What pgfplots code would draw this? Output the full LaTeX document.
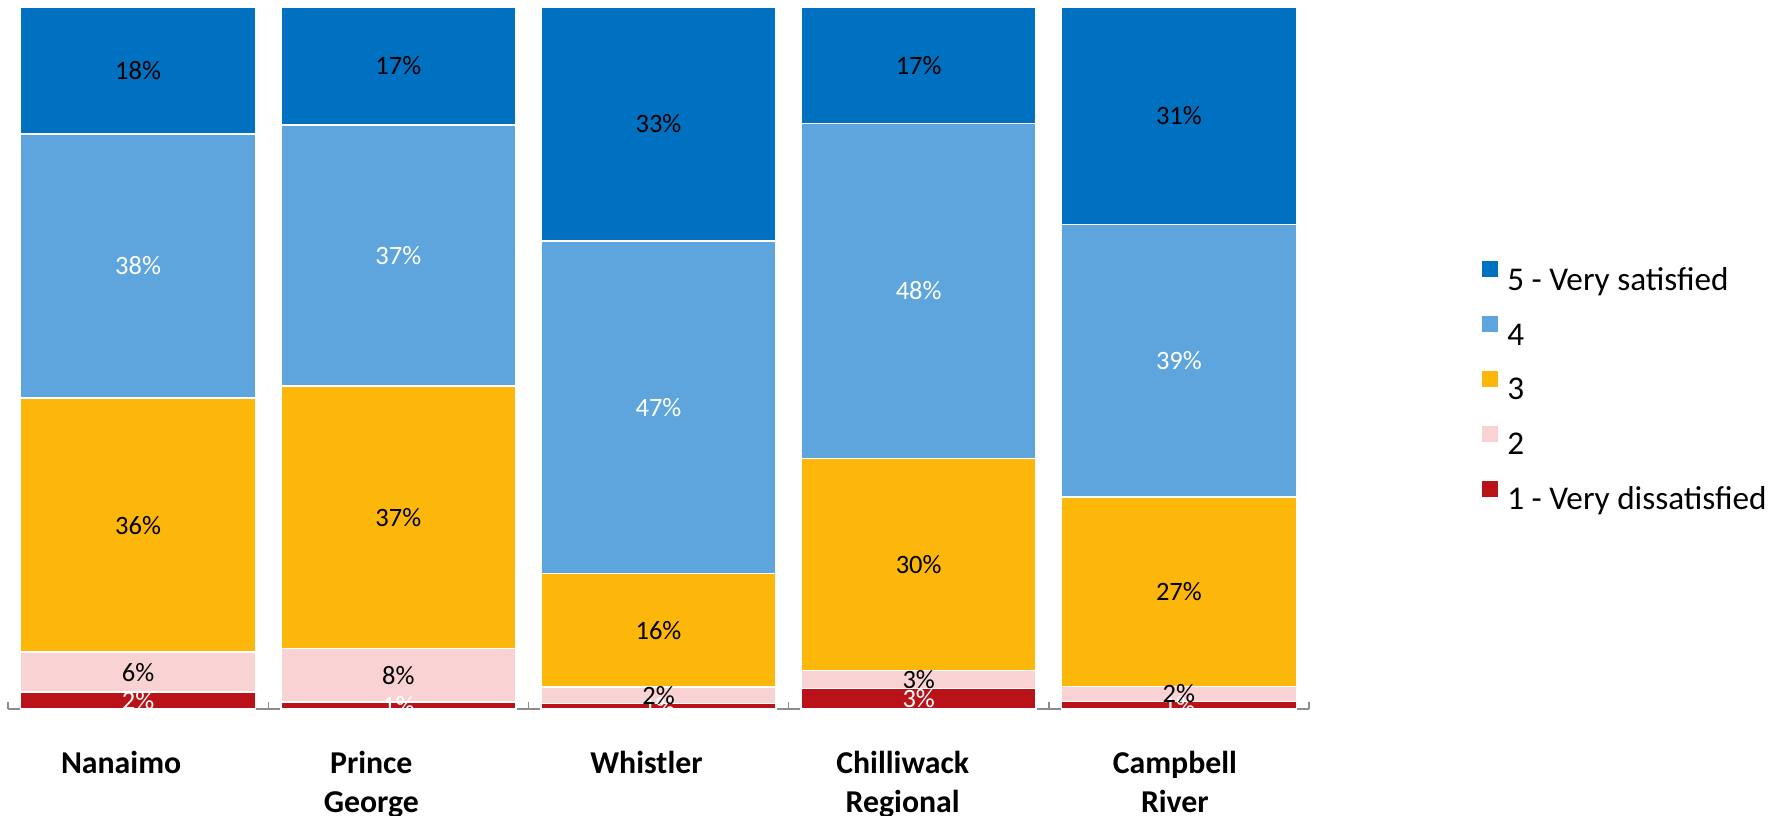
\documentclass[border=0pt]{standalone}
\usepackage{pgfplots}
\pgfplotsset{compat=1.18}
\usepackage{pgfplotstable}
\usepackage{fontspec}
\setmainfont{Carlito}

\definecolor{cfive}{HTML}{0070C0}
\definecolor{cfour}{HTML}{5DA5DC}
\definecolor{cthree}{HTML}{FDB70B}
\definecolor{ctwo}{HTML}{F9D2D3}
\definecolor{cone}{HTML}{B91319}
\definecolor{axisgray}{HTML}{8C8C8C}

\pgfplotstableread{
x n1 n2 n3 n4 n5
0 2.4 5.7 36.2 37.6 18.1
1 1.0 7.6 37.4 37.2 16.8
2 0.8 2.3 16.2 47.4 33.3
3 2.9 2.6 30.2 47.7 16.6
4 1.1 2.1 27.0 38.8 31.0
}\data

\newcommand\lab[2]{\hspace*{#1}\begin{tabular}{@{}c@{}}#2\end{tabular}}

\pgfplotsset{
  seg/.style={fill=#1, draw=white, line width=0.75pt},
  lbl/.style={draw=none, mark=none, every node near coord/.append style={text=#1}},
}

\begin{document}
\begin{tikzpicture}
\begin{axis}[
  at={(0,0)}, anchor=south west,
  scale only axis, width=650.5pt, height=351pt,
  ybar stacked, bar width=117.5pt,
  xmin=-0.5, xmax=4.5, ymin=0, ymax=100,
  enlarge x limits=false, enlarge y limits=false,
  axis x line*=bottom, axis y line=none,
  axis line style={draw=axisgray, line width=0.7pt},
  xtick={-0.5,0.5,1.5,2.5,3.5,4.5},
  x tick label as interval,
  xticklabels={{\lab{-17pt}{Nanaimo}},{\lab{-27pt}{Prince\\George}},{\lab{-12pt}{Whistler}},{\lab{-16pt}{Chilliwack\\Regional}},{\lab{-4pt}{Campbell\\River}}},
  xtick align=inside, major tick length=3.5pt,
  xtick style={draw=axisgray, line width=0.7pt},
  xticklabel style={font=\fontsize{15.9}{19.3}\bfseries\selectfont, inner sep=0pt, anchor=north, yshift=-18.5pt},
  reverse legend,
  legend cell align=left,
  legend style={draw=none, fill=none, inner sep=0pt, outer sep=0pt,
    at={(1.13297,0.6377)}, anchor=north west,
    font=\fontsize{16.6}{19}\selectfont,
    row sep=11.55pt,
    nodes={inner sep=0pt},
    /tikz/every odd column/.append style={column sep=4.8pt},
    /tikz/every even column/.append style={text height=12pt, text depth=4pt}},
  legend image code/.code={\fill[#1,draw=none] (0pt,1.3pt) rectangle (7.85pt,9.15pt);},
]
\addplot[seg=cone] table[x=x,y=n1]{\data};
\addplot[seg=ctwo] table[x=x,y=n2]{\data};
\addplot[seg=cthree] table[x=x,y=n3]{\data};
\addplot[seg=cfour] table[x=x,y=n4]{\data};
\addplot[seg=cfive] table[x=x,y=n5]{\data};
\legend{1 - Very dissatisfied, 2, 3, 4, 5 - Very satisfied}
\end{axis}
\begin{axis}[
  at={(0,0)}, anchor=south west,
  scale only axis, width=650.5pt, height=351pt,
  xmin=-0.5, xmax=4.5, ymin=0, ymax=100,
  enlargelimits=false,
  hide axis,
  point meta=explicit,
  nodes near coords={\pgfmathprintnumber[fixed,precision=0,assume math mode=true]{\pgfplotspointmeta}\%},
  nodes near coords align={center},
  every node near coord/.append style={anchor=center, font=\fontsize{13.25}{16}\selectfont, inner sep=0pt},
]
\addplot[lbl=white] table[x=x, y expr=\thisrow{n1}/2, meta=n1]{\data};
\addplot[lbl=black] table[x=x, y expr=\thisrow{n1}+\thisrow{n2}/2, meta=n2]{\data};
\addplot[lbl=black] table[x=x, y expr=\thisrow{n1}+\thisrow{n2}+\thisrow{n3}/2, meta=n3]{\data};
\addplot[lbl=white] table[x=x, y expr=\thisrow{n1}+\thisrow{n2}+\thisrow{n3}+\thisrow{n4}/2, meta=n4]{\data};
\addplot[lbl=black] table[x=x, y expr=\thisrow{n1}+\thisrow{n2}+\thisrow{n3}+\thisrow{n4}+\thisrow{n5}/2, meta=n5]{\data};
\end{axis}
\pgfresetboundingbox
\useasboundingbox (-4pt,-53pt) rectangle (885.5pt,354.5pt);
\end{tikzpicture}
\end{document}
